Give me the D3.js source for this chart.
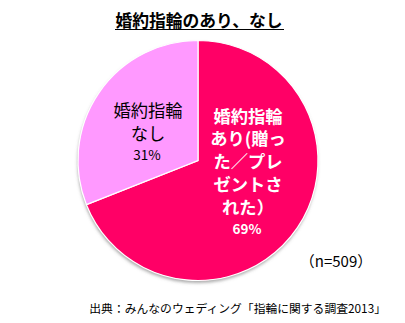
<!DOCTYPE html>
<html>
<head>
<meta charset="utf-8">
<script src="https://cdn.jsdelivr.net/npm/d3@7"></script>
<style>
  html, body { margin: 0; padding: 0; background: #fff; }
  svg { display: block; font-family: "Noto Sans CJK JP", sans-serif; }
</style>
</head>
<body>
<svg id="chart" width="405" height="323"></svg>
<script>
// Engagement ring survey: share of respondents with / without a ring
const categories = ["婚約指輪あり(贈った／プレゼントされた）", "婚約指輪なし"];
const values = [69, 31];
const colors = ["#FF0066", "#FF99FF"];
const labelLines = [
  ["婚約指輪", "あり(贈っ", "た／プレ", "ゼントさ", "れた）"],
  ["婚約指輪", "なし"]
];
const title = "婚約指輪のあり、なし";
const sampleNote = "（n=509）";
const sourceNote = "出典：みんなのウェディング「指輪に関する調査2013」";

const svg = d3.select("#chart");
const cx = 198, cy = 160.5, r = 120;

const defs = svg.append("defs");
const f = defs.append("filter").attr("id", "shadow")
  .attr("x", "-20%").attr("y", "-20%").attr("width", "140%").attr("height", "140%");
f.append("feDropShadow").attr("dx", -0.5).attr("dy", 2.5)
  .attr("stdDeviation", 1.6).attr("flood-color", "#666").attr("flood-opacity", 0.55);

// Title with underline
svg.append("text")
  .attr("x", 199).attr("y", 27)
  .attr("text-anchor", "middle")
  .attr("font-size", 16.8).attr("font-weight", "bold")
  .attr("fill", "#000")
  .text(title);
svg.append("line")
  .attr("x1", 115).attr("x2", 284)
  .attr("y1", 29.5).attr("y2", 29.5)
  .attr("stroke", "#000").attr("stroke-width", 1);

const pie = d3.pie().sort(null).value(d => d);
const arcs = pie(values);
const arc = d3.arc().innerRadius(0).outerRadius(r);

const g = svg.append("g").attr("transform", `translate(${cx},${cy})`);
g.append("circle").attr("r", r).attr("fill", "#fff").attr("filter", "url(#shadow)");
g.selectAll("path.slice")
  .data(arcs)
  .join("path")
  .attr("class", "slice")
  .attr("d", arc)
  .attr("fill", (d, i) => colors[i])
  .attr("stroke", "#fff")
  .attr("stroke-width", 1.2);

// Multi-line slice label: category lines then the percentage
function sliceLabel(x, y0, lines, lineGap, pct, pctGap, fill, weight) {
  const txt = svg.append("text")
    .attr("text-anchor", "middle")
    .attr("fill", fill).attr("font-weight", weight);
  lines.forEach((s, i) => {
    txt.append("tspan")
      .attr("x", x).attr("y", y0 + i * lineGap)
      .attr("dominant-baseline", "central")
      .attr("font-size", 17.3).text(s);
  });
  txt.append("tspan")
    .attr("x", x - 1).attr("y", y0 + (lines.length - 1) * lineGap + pctGap)
    .attr("dominant-baseline", "central")
    .attr("font-size", 13.5).text(d3.format(".0f")(pct) + "%");
}

sliceLabel(248, 115, labelLines[0], 22.8, values[0], 21.5, "#fff", "bold");
sliceLabel(148, 109.5, labelLines[1], 22.8, values[1], 21.2, "#000", "normal");

// Sample size and source
svg.append("text").attr("x", 336).attr("y", 260)
  .attr("text-anchor", "middle").attr("dominant-baseline", "central")
  .attr("font-size", 15).attr("fill", "#000").text(sampleNote);
svg.append("text").attr("x", 386).attr("y", 307)
  .attr("text-anchor", "end").attr("dominant-baseline", "central")
  .attr("font-size", 11.8).attr("fill", "#000").text(sourceNote);
</script>
</body>
</html>
